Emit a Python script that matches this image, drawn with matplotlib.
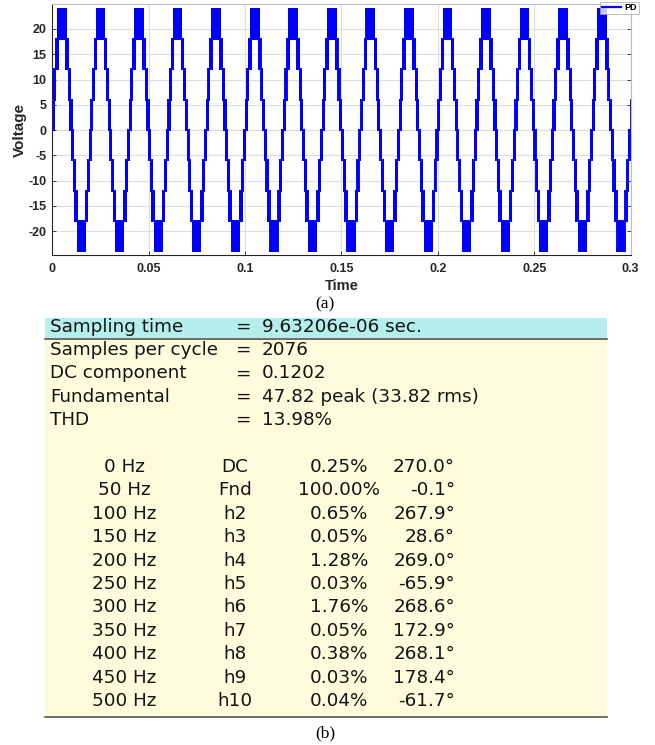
import numpy as np
import matplotlib
matplotlib.use("Agg")
import matplotlib.pyplot as plt
from matplotlib.patches import Rectangle
from matplotlib.collections import LineCollection
from matplotlib.lines import Line2D
from matplotlib.font_manager import FontProperties

plt.rcParams["path.simplify"] = False

# ---- PD-PWM multilevel inverter output (panel a) ----
f_fund = 50.0          # fundamental frequency, Hz
f_carrier = 3000.0     # carrier frequency, Hz
v_step = 6.0           # voltage per level
n_levels = 4           # levels on each side of zero
v_ref_peak = 23.0      # reference amplitude
t_end = 0.3

x_ticks = [0, 0.05, 0.1, 0.15, 0.2, 0.25, 0.3]
x_tick_labels = ["0", "0.05", "0.1", "0.15", "0.2", "0.25", "0.3"]
y_ticks = [-20, -15, -10, -5, 0, 5, 10, 15, 20]
y_tick_labels = ["-20", "-15", "-10", "-5", "0", "5", "10", "15", "20"]

# ---- FFT analysis summary (panel b) ----
sampling_time = "9.63206e-06"
samples_per_cycle = 2076
dc_component = 0.1202
fund_peak = 47.82
fund_rms = 33.82
thd = 13.98

harm_freq = [0, 50, 100, 150, 200, 250, 300, 350, 400, 450, 500]
harm_name = ["DC", "Fnd", "h2", "h3", "h4", "h5", "h6", "h7", "h8", "h9", "h10"]
harm_mag = [0.25, 100.00, 0.65, 0.05, 1.28, 0.03, 1.76, 0.05, 0.38, 0.03, 0.04]
harm_phase = [270.0, -0.1, 267.9, 28.6, 269.0, -65.9, 268.6, 172.9, 268.1, 178.4, -61.7]

# phase-disposition modulation: all carriers in phase, one per band
t = np.arange(0, t_end + 1e-7, 1e-6)
u = v_ref_peak * np.sin(2 * np.pi * f_fund * t) / v_step
phase = (t * f_carrier) % 1.0
carrier = 1.0 - np.abs(2.0 * phase - 1.0)
base = np.floor(u)
level = base + ((u - base) > carrier)
level = np.clip(level, -n_levels, n_levels)
v_out = level * v_step

# keep only the switching instants
sw = np.flatnonzero(np.diff(v_out)) + 1
t_sw = np.concatenate(([t[0]], t[sw], [t[-1]]))
v_sw = np.concatenate(([v_out[0]], v_out[sw], [v_out[-1]]))

# separate segments (holds + jumps) so dense switching renders solid
holds = np.stack([np.column_stack([t_sw[:-1], v_sw[:-1]]),
                  np.column_stack([t_sw[1:], v_sw[:-1]])], axis=1)
jumps = np.stack([np.column_stack([t_sw[1:-1], v_sw[:-2]]),
                  np.column_stack([t_sw[1:-1], v_sw[1:-1]])], axis=1)
segments = np.concatenate([holds, jumps])

W, H = 655, 745
fig = plt.figure(figsize=(W / 100, H / 100), dpi=100)

line_color = "#0000ff"
line_width = 1.35
ax = fig.add_axes([52.3 / W, 1 - 255 / H, (630.6 - 52.3) / W, (255 - 4) / H])
ax.add_collection(LineCollection(segments, colors=line_color, linewidths=line_width,
                                 capstyle="projecting"))
ax.set_xlim(0, t_end)
ax.set_ylim(-24.75, 24.95)
ax.set_xticks(x_ticks)
ax.set_xticklabels(x_tick_labels)
ax.set_yticks(y_ticks)
ax.set_yticklabels(y_tick_labels)
tick_fp = FontProperties(family="Liberation Sans", weight="bold", size=9)
for lab in ax.get_xticklabels() + ax.get_yticklabels():
    lab.set_fontproperties(tick_fp)
    lab.set_color("#262626")
ax.tick_params(direction="in", length=3, width=0.6, color="#262626",
               top=False, right=True)
ax.tick_params(axis="x", pad=6)
ax.tick_params(axis="y", pad=4)
ax.grid(True, color="#dedede", lw=0.8)
ax.set_axisbelow(True)
for xv in (0.1, 0.2):
    ax.axvline(xv, color="#8c8c8c", lw=0.7, zorder=0.5)
for side in ("left", "bottom"):
    ax.spines[side].set_color("#262626")
    ax.spines[side].set_linewidth(0.8)
for side in ("top", "right"):
    ax.spines[side].set_color("#bdbdbd")
    ax.spines[side].set_linewidth(0.8)
ax.set_xlabel("Time", family="Liberation Sans", weight="bold", size=10.5,
              color="#262626")
ax.set_ylabel("Voltage", family="Liberation Sans", weight="bold", size=11,
              color="#262626")
ax.xaxis.set_label_coords(0.5, -(286 - 255) / 251, transform=ax.transAxes)
ax.yaxis.set_label_coords(-(52.3 - 20) / 578.3, 0.5, transform=ax.transAxes)
ax.xaxis.label.set_va("center")
ax.yaxis.label.set_va("center")
handle = Line2D([], [], color=line_color, lw=1.6)
leg = ax.legend([handle], ["PD"], loc="upper right",
                bbox_to_anchor=(638.5 / W, 1 - 1.5 / H),
                bbox_transform=fig.transFigure,
                prop=FontProperties(family="Liberation Sans", weight="bold", size=6.5),
                frameon=True, fancybox=False, handlelength=2.2,
                handletextpad=0.3, borderpad=0.2, borderaxespad=0)
leg.get_frame().set_edgecolor("#a0a0a0")
leg.get_frame().set_linewidth(0.6)

# ---- table panel, drawn in pixel coordinates ----
tab = fig.add_axes([0, 0, 1, 1], facecolor="none")
tab.set_xlim(0, W)
tab.set_ylim(H, 0)
tab.axis("off")

x0, x1 = 44.5, 607
tab.add_patch(Rectangle((x0, 318), x1 - x0, 20, facecolor="#b4efed", edgecolor="none"))
tab.add_patch(Rectangle((x0, 338), x1 - x0, 379, facecolor="#fffbdc", edgecolor="none"))
tab.plot([x0, x1], [338.5, 338.5], color="#555555", lw=1.2)
tab.plot([x0, x1], [717, 717], color="#555555", lw=1.2)

txt = dict(family="DejaVu Sans", size=13.2, color="#141414", va="center")
summary_rows = [
    ("Sampling time", f"{sampling_time} sec."),
    ("Samples per cycle", f"{samples_per_cycle}"),
    ("DC component", f"{dc_component:.4f}"),
    ("Fundamental", f"{fund_peak:.2f} peak ({fund_rms:.2f} rms)"),
    ("THD", f"{thd:.2f}%"),
]
row_y = [327, 350, 373.5, 397, 420]
for (name, val), yy in zip(summary_rows, row_y):
    tab.text(50, yy, name, ha="left", **txt)
    tab.text(243.5, yy, "=", ha="center", **txt)
    tab.text(262, yy, val, ha="left", **txt)

for i, (fq, nm, mg, ph) in enumerate(zip(harm_freq, harm_name, harm_mag, harm_phase)):
    yy = 467 + 23.4 * i
    tab.text(124, yy, f"{fq} Hz", ha="center", **txt)
    tab.text(235, yy, nm, ha="center", **txt)
    tab.text(339, yy, f"{mg:.2f}%", ha="center", **txt)
    tab.text(455, yy, f"{ph:.1f}°", ha="right", **txt)

cap = dict(family="Liberation Serif", size=12.5, color="#000000", ha="center", va="center")
tab.text(325, 304, "(a)", **cap)
tab.text(325, 733, "(b)", **cap)

fig.savefig("out.png", dpi=100)
